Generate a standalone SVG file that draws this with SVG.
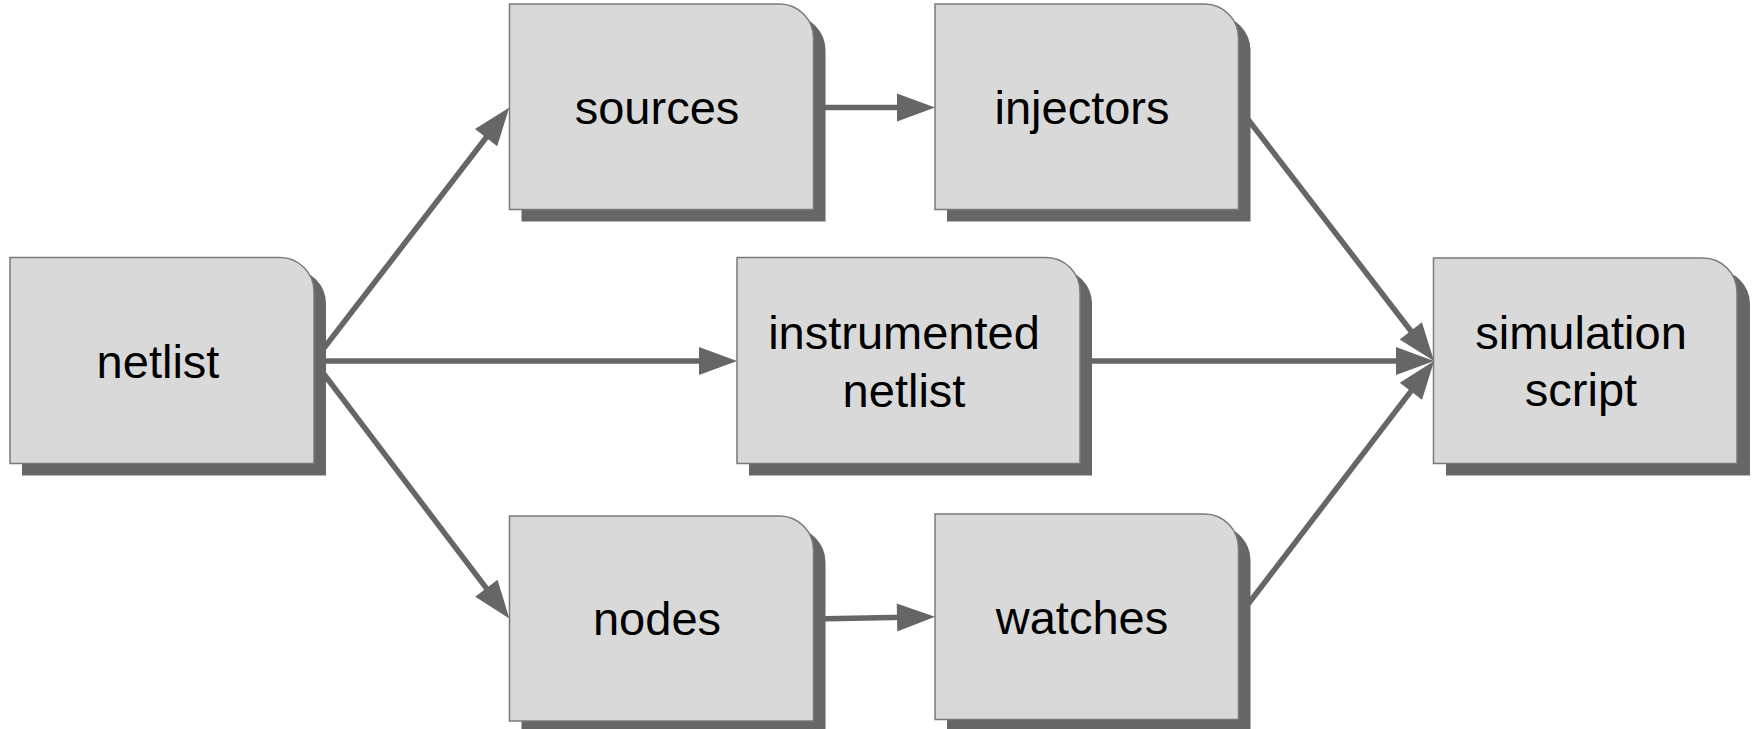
<svg xmlns="http://www.w3.org/2000/svg" width="1756" height="729" viewBox="0 0 1756 729">
  <defs>
    <style>
      .shadow { fill: #666666; stroke: none; }
      .box { fill: #d9d9d9; stroke: #7a7a7a; stroke-width: 1.5; }
      .label { font-family: "Liberation Sans", Arial, sans-serif; font-size: 47px; fill: #000000; text-anchor: middle; }
      .edge { fill: none; stroke: #666666; stroke-width: 5.5; marker-end: url(#arrow); }
    </style>
    <marker id="arrow" markerUnits="userSpaceOnUse" viewBox="0 -15 40 30" refX="8" refY="0" markerWidth="40" markerHeight="30" orient="auto" overflow="visible">
      <path d="M0,-14 L38,0 L0,14 Z" fill="#666666"/>
    </marker>
  </defs>

  <rect width="1756" height="729" fill="#ffffff"/>

  <!-- connectors (drawn first so node shadows sit over their start points) -->
  <g id="connectors">
    <line class="edge" x1="314" y1="361" x2="491.0" y2="131.3"/>
    <line class="edge" x1="314" y1="361" x2="707" y2="361"/>
    <line class="edge" x1="314" y1="361" x2="491.2" y2="594.6"/>
    <line class="edge" x1="813.5" y1="107.5" x2="905" y2="107.5"/>
    <line class="edge" x1="813.5" y1="619" x2="905" y2="617.3"/>
    <line class="edge" x1="1238.5" y1="107" x2="1415.7" y2="337.2"/>
    <line class="edge" x1="1080" y1="361" x2="1404" y2="361"/>
    <line class="edge" x1="1238.5" y1="616.7" x2="1415.8" y2="384.8"/>
  </g>

  <!-- nodes: box with rounded top-right corner and drop shadow -->
  <g id="node-netlist">
    <path class="shadow" d="M22,269.5 H292 A34,34 0 0 1 326,303.5 V475.5 H22 Z"/>
    <path class="box" d="M10,257.5 H280 A34,34 0 0 1 314,291.5 V463.5 H10 Z"/>
    <text class="label" x="158" y="378">netlist</text>
  </g>

  <g id="node-sources">
    <path class="shadow" d="M521.5,16 H791.5 A34,34 0 0 1 825.5,50 V221.5 H521.5 Z"/>
    <path class="box" d="M509.5,4 H779.5 A34,34 0 0 1 813.5,38 V209.5 H509.5 Z"/>
    <text class="label" x="657" y="124">sources</text>
  </g>

  <g id="node-injectors">
    <path class="shadow" d="M947,16 H1216.5 A34,34 0 0 1 1250.5,50 V221.5 H947 Z"/>
    <path class="box" d="M935,4 H1204.5 A34,34 0 0 1 1238.5,38 V209.5 H935 Z"/>
    <text class="label" x="1082" y="124">injectors</text>
  </g>

  <g id="node-instrumented-netlist">
    <path class="shadow" d="M749,269.5 H1058 A34,34 0 0 1 1092,303.5 V475.5 H749 Z"/>
    <path class="box" d="M737,257.5 H1046 A34,34 0 0 1 1080,291.5 V463.5 H737 Z"/>
    <text class="label" x="904" y="349">instrumented</text>
    <text class="label" x="904" y="406.5">netlist</text>
  </g>

  <g id="node-simulation-script">
    <path class="shadow" d="M1446,270 H1716 A34,34 0 0 1 1750,304 V475.5 H1446 Z"/>
    <path class="box" d="M1433.5,258 H1703 A34,34 0 0 1 1737,292 V463.5 H1433.5 Z"/>
    <text class="label" x="1581" y="348.5">simulation</text>
    <text class="label" x="1581" y="406">script</text>
  </g>

  <g id="node-nodes">
    <path class="shadow" d="M521.5,528 H791.5 A34,34 0 0 1 825.5,562 V733 H521.5 Z"/>
    <path class="box" d="M509.5,516 H779.5 A34,34 0 0 1 813.5,550 V721 H509.5 Z"/>
    <text class="label" x="657" y="635">nodes</text>
  </g>

  <g id="node-watches">
    <path class="shadow" d="M947,526 H1216.5 A34,34 0 0 1 1250.5,560 V731.5 H947 Z"/>
    <path class="box" d="M935,514 H1204.5 A34,34 0 0 1 1238.5,548 V719.5 H935 Z"/>
    <text class="label" x="1082" y="633.5">watches</text>
  </g>
</svg>
